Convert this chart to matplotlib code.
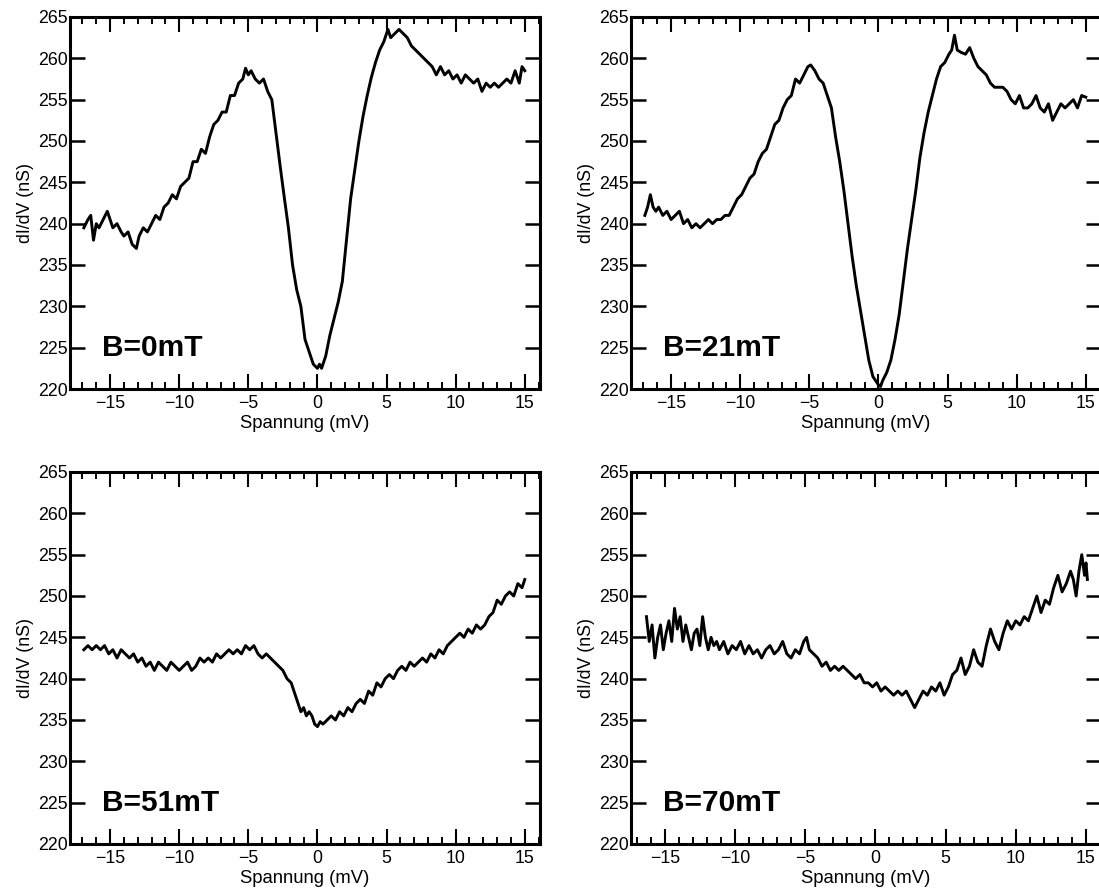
import matplotlib
matplotlib.use("Agg")
import matplotlib.pyplot as plt
from matplotlib.ticker import MultipleLocator

plt.rcParams['font.family'] = ['Liberation Sans', 'DejaVu Sans']

# ---------------- data ----------------
x_0mT = [-16.9, -16.6, -16.4, -16.2, -16.0, -15.8, -15.5, -15.2, -15.0, -14.8,
         -14.5, -14.2, -14.0, -13.7, -13.4, -13.1, -12.9, -12.6, -12.3, -12.0,
         -11.7, -11.4, -11.1, -10.8, -10.5, -10.2, -9.9, -9.6, -9.3, -9.0,
         -8.7, -8.4, -8.1, -7.8, -7.5, -7.2, -6.9, -6.6, -6.3, -6.0,
         -5.7, -5.4, -5.2, -5.0, -4.8, -4.5, -4.2, -3.9, -3.6, -3.3,
         -3.0, -2.7, -2.4, -2.1, -1.8, -1.5, -1.2, -0.9, -0.6, -0.3,
         0.0, 0.15, 0.3, 0.6, 0.9, 1.2, 1.5, 1.8, 2.1, 2.4,
         2.7, 3.0, 3.3, 3.6, 3.9, 4.2, 4.5, 4.8, 5.1, 5.3,
         5.6, 5.9, 6.2, 6.5, 6.8, 7.1, 7.4, 7.7, 8.0, 8.3,
         8.6, 8.9, 9.2, 9.5, 9.8, 10.1, 10.4, 10.7, 11.0, 11.3,
         11.6, 11.9, 12.2, 12.5, 12.8, 13.1, 13.4, 13.7, 14.0, 14.3,
         14.6, 14.8, 15.0]
y_0mT = [239.5, 240.5, 241.0, 238.0, 240.0, 239.5, 240.5, 241.5, 240.5, 239.5,
         240.0, 239.0, 238.5, 239.0, 237.5, 237.0, 238.5, 239.5, 239.0, 240.0,
         241.0, 240.5, 242.0, 242.5, 243.5, 243.0, 244.5, 245.0, 245.5, 247.5,
         247.5, 249.0, 248.5, 250.5, 252.0, 252.5, 253.5, 253.5, 255.5, 255.5,
         257.0, 257.5, 258.8, 258.0, 258.5, 257.5, 257.0, 257.5, 256.0, 255.0,
         251.0, 247.0, 243.2, 239.5, 235.0, 232.0, 230.0, 226.0, 224.5, 223.0,
         222.5, 223.0, 222.5, 224.0, 226.5, 228.5, 230.5, 233.0, 238.0, 243.0,
         246.5, 250.0, 253.0, 255.5, 257.7, 259.5, 261.0, 262.0, 263.5, 262.5,
         263.0, 263.5, 263.0, 262.5, 261.5, 261.0, 260.5, 260.0, 259.5, 259.0,
         258.0, 259.0, 258.0, 258.5, 257.5, 258.0, 257.0, 258.0, 257.5, 257.0,
         257.5, 256.0, 257.0, 256.5, 257.0, 256.5, 257.0, 257.5, 257.0, 258.5,
         257.0, 259.0, 258.5]

x_21mT = [-16.9, -16.7, -16.5, -16.3, -16.1, -15.9, -15.6, -15.3, -15.0, -14.7,
          -14.4, -14.1, -13.8, -13.5, -13.2, -12.9, -12.6, -12.3, -12.0, -11.7,
          -11.4, -11.1, -10.8, -10.5, -10.2, -9.9, -9.6, -9.3, -9.0, -8.7,
          -8.4, -8.1, -7.8, -7.5, -7.2, -6.9, -6.6, -6.3, -6.0, -5.7,
          -5.4, -5.1, -4.9, -4.6, -4.3, -4.0, -3.7, -3.4, -3.1, -2.8,
          -2.5, -2.2, -1.9, -1.6, -1.3, -1.0, -0.7, -0.4, -0.2, 0.0,
          0.15, 0.3, 0.6, 0.9, 1.2, 1.5, 1.8, 2.1, 2.4, 2.7,
          3.0, 3.3, 3.6, 3.9, 4.2, 4.5, 4.8, 5.1, 5.3, 5.5,
          5.7, 6.0, 6.3, 6.6, 6.9, 7.2, 7.5, 7.8, 8.1, 8.4,
          8.7, 9.0, 9.3, 9.6, 9.9, 10.2, 10.5, 10.8, 11.1, 11.4,
          11.7, 12.0, 12.3, 12.6, 12.9, 13.2, 13.5, 13.8, 14.1, 14.4,
          14.7, 15.0]
y_21mT = [241.0, 242.0, 243.5, 242.0, 241.5, 242.0, 241.0, 241.5, 240.5, 241.0,
          241.5, 240.0, 240.5, 239.5, 240.0, 239.5, 240.0, 240.5, 240.0, 240.5,
          240.5, 241.0, 241.0, 242.0, 243.0, 243.5, 244.5, 245.5, 246.0, 247.5,
          248.5, 249.0, 250.5, 252.0, 252.5, 254.0, 255.0, 255.5, 257.5, 257.0,
          258.0, 259.0, 259.2, 258.5, 257.5, 257.0, 255.5, 254.0, 250.5, 247.5,
          244.0, 240.0, 236.0, 232.5, 229.5, 226.5, 223.5, 221.5, 221.0, 220.5,
          220.3, 221.0, 222.0, 223.5, 226.0, 229.0, 233.0, 237.0, 240.5, 244.0,
          248.0, 251.0, 253.5, 255.5, 257.5, 259.0, 259.5, 260.5, 261.0, 262.8,
          261.0, 260.7, 260.5, 261.3, 260.0, 259.0, 258.5, 258.0, 257.0, 256.5,
          256.5, 256.5, 256.0, 255.0, 254.5, 255.5, 254.0, 254.0, 254.5, 255.5,
          254.0, 253.5, 254.5, 252.5, 253.5, 254.5, 254.0, 254.5, 255.0, 254.0,
          255.5, 255.3]

x_51mT = [-16.9, -16.6, -16.3, -16.0, -15.7, -15.4, -15.1, -14.8, -14.5, -14.2,
          -13.9, -13.6, -13.3, -13.0, -12.7, -12.4, -12.1, -11.8, -11.5, -11.2,
          -10.9, -10.6, -10.3, -10.0, -9.7, -9.4, -9.1, -8.8, -8.5, -8.2,
          -7.9, -7.6, -7.3, -7.0, -6.7, -6.4, -6.1, -5.8, -5.5, -5.2,
          -4.9, -4.6, -4.3, -4.0, -3.7, -3.4, -3.1, -2.8, -2.5, -2.2,
          -1.9, -1.6, -1.4, -1.2, -1.0, -0.8, -0.6, -0.4, -0.2, 0.0,
          0.2, 0.4, 0.7, 1.0, 1.3, 1.6, 1.9, 2.2, 2.5, 2.8,
          3.1, 3.4, 3.7, 4.0, 4.3, 4.6, 4.9, 5.2, 5.5, 5.8,
          6.1, 6.4, 6.7, 7.0, 7.3, 7.6, 7.9, 8.2, 8.5, 8.8,
          9.1, 9.4, 9.7, 10.0, 10.3, 10.6, 10.9, 11.2, 11.5, 11.8,
          12.1, 12.4, 12.7, 13.0, 13.3, 13.6, 13.9, 14.2, 14.5, 14.8,
          15.0]
y_51mT = [243.5, 244.0, 243.5, 244.0, 243.5, 244.0, 243.0, 243.5, 242.5, 243.5,
          243.0, 242.5, 243.0, 242.0, 242.5, 241.5, 242.0, 241.0, 242.0, 241.5,
          241.0, 242.0, 241.5, 241.0, 241.5, 242.0, 241.0, 241.5, 242.5, 242.0,
          242.5, 242.0, 243.0, 242.5, 243.0, 243.5, 243.0, 243.5, 243.0, 244.0,
          243.5, 244.0, 243.0, 242.5, 243.0, 242.5, 242.0, 241.5, 241.0, 240.0,
          239.5, 238.0, 237.0, 236.0, 236.5, 235.5, 236.0, 235.5, 234.5, 234.2,
          234.8, 234.5, 235.0, 235.5, 235.0, 236.0, 235.5, 236.5, 236.0, 237.0,
          237.5, 237.0, 238.5, 238.0, 239.5, 239.0, 240.0, 240.5, 240.0, 241.0,
          241.5, 241.0, 242.0, 241.5, 242.0, 242.5, 242.0, 243.0, 242.5, 243.5,
          243.0, 244.0, 244.5, 245.0, 245.5, 245.0, 246.0, 245.5, 246.5, 246.0,
          246.5, 247.5, 248.0, 249.5, 249.0, 250.0, 250.5, 250.0, 251.5, 251.0,
          252.0]

x_70mT = [-16.3, -16.1, -15.9, -15.7, -15.5, -15.3, -15.1, -14.9, -14.7, -14.5,
          -14.3, -14.1, -13.9, -13.7, -13.5, -13.3, -13.1, -12.9, -12.7, -12.5,
          -12.3, -12.1, -11.9, -11.7, -11.5, -11.3, -11.1, -10.8, -10.5, -10.2,
          -9.9, -9.6, -9.3, -9.0, -8.7, -8.4, -8.1, -7.8, -7.5, -7.2,
          -6.9, -6.6, -6.3, -6.0, -5.7, -5.4, -5.1, -4.9, -4.7, -4.4,
          -4.1, -3.8, -3.5, -3.2, -2.9, -2.6, -2.3, -2.0, -1.7, -1.4,
          -1.1, -0.8, -0.5, -0.2, 0.1, 0.4, 0.7, 1.0, 1.3, 1.6,
          1.9, 2.2, 2.5, 2.8, 3.1, 3.4, 3.7, 4.0, 4.3, 4.6,
          4.9, 5.2, 5.5, 5.8, 6.1, 6.4, 6.7, 7.0, 7.3, 7.6,
          7.9, 8.2, 8.5, 8.8, 9.1, 9.4, 9.7, 10.0, 10.3, 10.6,
          10.9, 11.2, 11.5, 11.8, 12.1, 12.4, 12.7, 13.0, 13.3, 13.6,
          13.9, 14.1, 14.3, 14.5, 14.7, 14.9, 15.0, 15.1]
y_70mT = [247.5, 244.5, 246.5, 242.5, 245.0, 246.5, 243.5, 245.5, 247.0, 244.5,
          248.5, 246.0, 247.5, 244.5, 246.5, 245.0, 243.5, 245.5, 246.0, 244.0,
          247.5, 245.0, 243.5, 245.0, 244.0, 244.5, 243.5, 244.5, 243.0, 244.0,
          243.5, 244.5, 243.0, 244.0, 243.0, 243.5, 242.5, 243.5, 244.0, 243.0,
          243.5, 244.5, 243.0, 242.5, 243.5, 243.0, 244.5, 245.0, 243.5, 243.0,
          242.5, 241.5, 242.0, 241.0, 241.5, 241.0, 241.5, 241.0, 240.5, 240.0,
          240.5, 239.5, 239.5, 239.0, 239.5, 238.5, 239.0, 238.5, 238.0, 238.5,
          238.0, 238.5, 237.5, 236.5, 237.5, 238.5, 238.0, 239.0, 238.5, 239.5,
          238.0, 239.0, 240.5, 241.0, 242.5, 240.5, 241.5, 243.5, 242.0, 241.5,
          244.0, 246.0, 244.5, 243.5, 245.5, 247.0, 246.0, 247.0, 246.5, 247.5,
          247.0, 248.5, 250.0, 248.0, 249.5, 249.0, 251.0, 252.5, 250.5, 251.5,
          253.0, 252.0, 250.0, 253.0, 255.0, 252.5, 254.0, 252.0]

panel_labels = ["B=0mT", "B=21mT", "B=51mT", "B=70mT"]
x_label = "Spannung (mV)"
y_label = "dI/dV (nS)"

series = [(x_0mT, y_0mT), (x_21mT, y_21mT), (x_51mT, y_51mT), (x_70mT, y_70mT)]
xlims = [(-17.9, 16.1), (-17.9, 16.1), (-17.9, 16.1), (-17.4, 16.07)]

# ---------------- figure ----------------
W, H = 1099, 891
fig = plt.figure(figsize=(W / 100, H / 100), dpi=100)

boxes = [  # left, bottom, right, top in pixels (top-origin y)
    (70, 389, 540, 17),
    (631, 389, 1101, 17),
    (70, 844, 540, 472),
    (631, 844, 1101, 472),
]

FS = 12.8
for i, ((xs, ys), (l, b, r, t)) in enumerate(zip(series, boxes)):
    ax = fig.add_axes([l / W, (H - b) / H, (r - l) / W, (b - t) / H])
    ax.plot(xs, ys, color='black', linewidth=2.1, solid_joinstyle='round')
    ax.set_xlim(*xlims[i])
    ax.set_ylim(220, 265)
    ax.xaxis.set_major_locator(MultipleLocator(5))
    ax.xaxis.set_minor_locator(MultipleLocator(1))
    ax.yaxis.set_major_locator(MultipleLocator(5))
    ax.tick_params(axis='x', which='major', direction='in', length=11, width=1.5,
                   top=True, bottom=True, labelsize=FS, pad=4, colors='black')
    ax.tick_params(axis='x', which='minor', direction='in', length=5, width=1.4,
                   top=True, bottom=True)
    ax.tick_params(axis='y', which='major', direction='in', length=10.5, width=1.8,
                   left=True, right=True, labelsize=FS, pad=1.5)
    for s in ax.spines.values():
        s.set_linewidth(2.2)
    ax.set_xticklabels([f"{int(v)}".replace('-', '\u2212') for v in ax.get_xticks()])
    ax.set_xlabel(x_label, fontsize=13.3, labelpad=2.5)
    ax.set_ylabel(y_label, fontsize=FS, labelpad=3)
    ax.text(0.068, 0.09, panel_labels[i], transform=ax.transAxes,
            fontsize=21.5, fontweight='bold', ha='left', va='baseline')

fig.savefig("out.png", dpi=100)
